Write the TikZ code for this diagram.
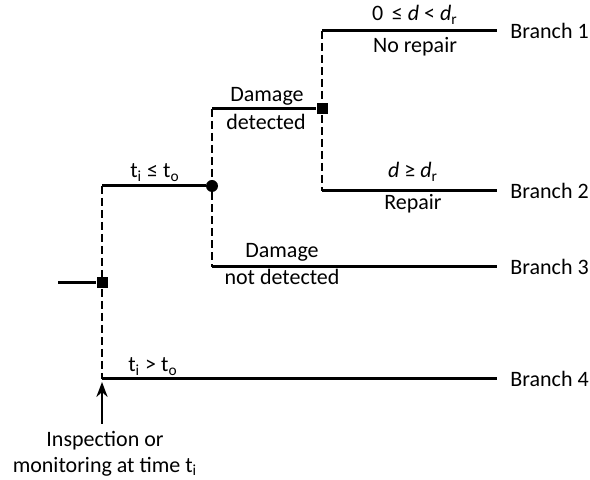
\documentclass[tikz,border=0pt]{standalone}
\usepackage{fontspec}
\setmainfont{Carlito}
\usetikzlibrary{arrows.meta}

\begin{document}
\begin{tikzpicture}[x=0.5pt, y=-0.5pt, >=Stealth, font=\fontsize{11}{13}\selectfont,
    path/.style={line width=1.5pt},
    link/.style={line width=1pt, dash pattern=on 4pt off 2pt},
    chance/.style={circle, fill, inner sep=0pt, minimum size=6pt},
    decision/.style={rectangle, fill, inner sep=0pt, minimum size=5.5pt},
    outcome/.style={anchor=west, inner xsep=6.5pt, inner ysep=0pt}]
    \useasboundingbox (0,0) rectangle (590,480);
    % decision and chance points
    \coordinate (start) at (58,283);
    \node[decision] (insp) at (102,283) {};
    \node[chance] (detect) at (212,186) {};
    \node[decision] (repair) at (322,109) {};
    % corners and ends
    \coordinate (c1) at (102,186);
    \coordinate (c2) at (212,109);
    \coordinate (c3) at (212,267);
    \coordinate (c4) at (102,379);
    \coordinate (c5) at (322,31);
    \coordinate (c6) at (322,191);
    \node[outcome] (b1) at (497,31) {Branch 1};
    \node[outcome] (b2) at (497,191) {Branch 2};
    \node[outcome] (b3) at (497,267) {Branch 3};
    \node[outcome] (b4) at (497,379) {Branch 4};
    \draw[path] (start) -- (insp);
    \draw[link] (c1) -- (insp) -- (c4);
    \draw[path] (c1) -- (detect);
    \draw[link] (c2) -- (detect) -- (c3);
    \draw[path] (c2) -- (repair);
    \draw[link] (c5) -- (repair) -- (c6);
    \draw[path] (c5) -- (b1);
    \draw[path] (c6) -- (b2);
    \draw[path] (c3) -- (b3);
    \draw[path] (c4) -- (b4);
    % labels
    \node[anchor=base] (le) at (155,178) {t\textsubscript{i} ≤ t\textsubscript{o}};
    \node[anchor=base] (gt) at (153,372) {t\textsubscript{i} > t\textsubscript{o}};
    \node[anchor=base] (dam1) at (267,102) {Damage};
    \node[anchor=base] (det1) at (266,130) {detected};
    \node[anchor=base] (dam2) at (282,258) {Damage};
    \node[anchor=base] (det2) at (282,285) {not detected};
    \node[anchor=base] (small) at (415,21) {0\, ≤ \textit{d} < \textit{d}\textsubscript{r}};
    \node[anchor=base] (norep) at (415,53) {No repair};
    \node[anchor=base] (large) at (413,178) {\textit{d} ≥ \textit{d}\textsubscript{r}};
    \node[anchor=base] (rep) at (413,210) {Repair};
    \node[align=center, anchor=north] (note) at (105,424) {Inspection or\\monitoring at time t\textsubscript{i}};
    \draw[->, line width=1pt] (note.north -| c4) -- ([yshift=-1.5pt]c4);
\end{tikzpicture}
\end{document}
